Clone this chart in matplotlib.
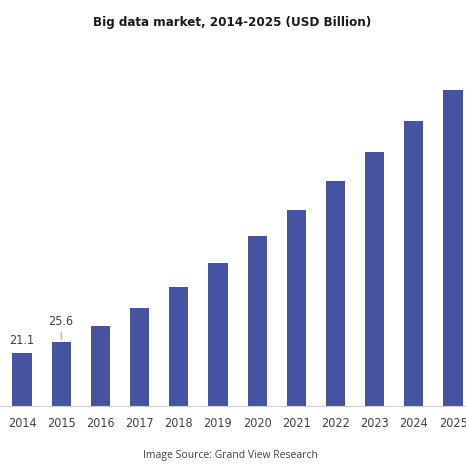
import matplotlib
matplotlib.use("Agg")
import matplotlib.pyplot as plt

years = ["2014", "2015", "2016", "2017", "2018", "2019", "2020", "2021", "2022", "2023", "2024", "2025"]
values = [21.1, 25.6, 31.6, 38.8, 47.1, 56.5, 67.2, 77.6, 88.9, 100.7, 112.8, 125.2]
shown_labels = {0: "21.1", 1: "25.6"}

fam = ["DejaVu Sans"]
cond = dict(family=fam, fontstretch="condensed")

fig = plt.figure(figsize=(4.66, 4.66), dpi=100)
ax = fig.add_axes([0.0, 0.128, 1.0, 0.76])
x = list(range(len(years)))
ax.bar(x, values, width=0.49, color="#4553a0", zorder=2)
ax.set_xlim(-0.56, 11.33)
ax.set_ylim(0, 140)
ax.set_xticks(x)
ax.set_xticklabels(years, fontsize=9, color="#404040", **cond)
ax.tick_params(axis="x", length=0, pad=8)
ax.set_yticks([])
for s in ["top", "right", "left"]:
    ax.spines[s].set_visible(False)
ax.spines["bottom"].set_color("#d0d0d0")
ax.spines["bottom"].set_linewidth(0.8)

ax.annotate(shown_labels[0], (0, values[0]), xytext=(0, 4), textcoords="offset points",
            ha="center", va="bottom", fontsize=9, color="#404040", **cond)
ax.annotate(shown_labels[1], (1, values[1]), xytext=(0, 10), textcoords="offset points",
            ha="center", va="bottom", fontsize=9, color="#404040",
            arrowprops=dict(arrowstyle="-", color="#909090", lw=0.6, shrinkA=1, shrinkB=1), **cond)

fig.text(0.498, 0.951, "Big data market, 2014-2025 (USD Billion)", ha="center", va="center",
         fontsize=9.5, fontweight="bold", color="#1a1a1a", **cond)
fig.text(0.495, 0.023, "Image Source: Grand View Research", ha="center", va="center",
         fontsize=7.5, color="#404040", family=["Open Sans", "DejaVu Sans"])

fig.savefig("out.png", dpi=100, facecolor="white")
